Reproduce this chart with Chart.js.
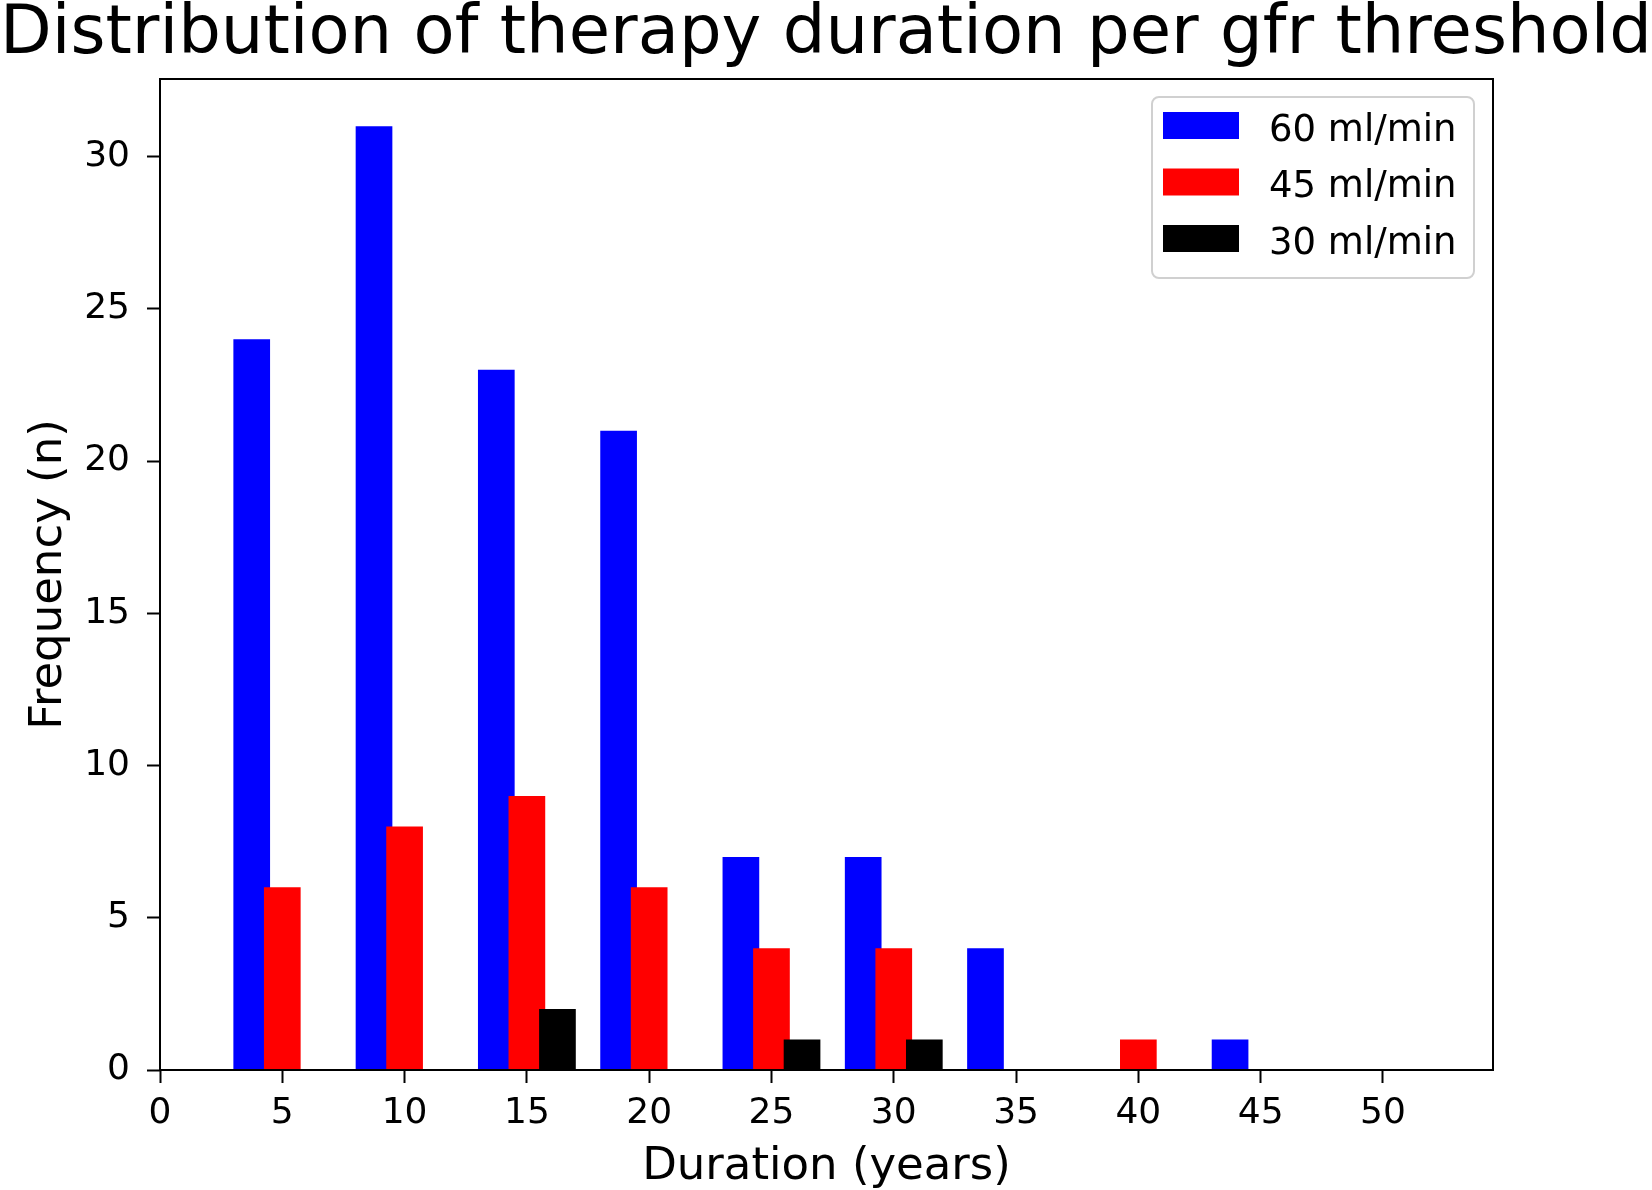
<!DOCTYPE html>
<html>
<head>
<meta charset="utf-8">
<title>Distribution of therapy duration per gfr threshold</title>
<script src="https://cdn.jsdelivr.net/npm/chart.js@4.4.1/dist/chart.umd.min.js"></script>
<style>
    body { margin: 0; background: #ffffff; }
    canvas { display: block; }
</style>
</head>
<body>
<canvas id="durationChart" width="1652" height="1190"></canvas>
<script>
// ==========================================
// Data
// ==========================================

const bins = [5, 10, 15, 20, 25, 30, 35, 40, 45];
const gfr60 = [24, 31, 23, 21, 7, 7, 4, 0, 1];
const gfr45 = [6, 8, 9, 6, 4, 4, 0, 1, 0];
const gfr30 = [0, 0, 2, 0, 1, 1, 0, 0, 0];
const seriesLabels = ['60 ml/min', '45 ml/min', '30 ml/min'];
const xTicks = [0, 5, 10, 15, 20, 25, 30, 35, 40, 45, 50];
const yTicks = [0, 5, 10, 15, 20, 25, 30];

// bars sit side by side around each bin value
const groupOffsets = [-1.25, 0, 1.25];
const colors = ['#0000ff', '#ff0000', '#000000'];

Chart.defaults.font.family = "'DejaVu Sans', sans-serif";
Chart.defaults.color = '#000000';

function toPoints(values, offset) {
    return bins.map((b, i) => ({ x: b + offset, y: values[i] }));
}

// frame around the plot area (matplotlib spines)
const axesFrame = {
    id: 'axesFrame',
    afterDatasetsDraw(chart) {
        const { ctx, chartArea } = chart;
        ctx.save();
        ctx.strokeStyle = '#000000';
        ctx.lineWidth = 2;
        ctx.strokeRect(chartArea.left, chartArea.top,
            chartArea.right - chartArea.left, chartArea.bottom - chartArea.top);
        ctx.restore();
    }
};

// boxed legend in the upper right corner
const boxLegend = {
    id: 'boxLegend',
    afterDraw(chart) {
        const ctx = chart.ctx;
        const left = 1152, top = 97, width = 322, height = 181;
        ctx.save();
        ctx.beginPath();
        ctx.roundRect(left, top, width, height, 7);
        ctx.fillStyle = 'rgba(255, 255, 255, 0.8)';
        ctx.fill();
        ctx.strokeStyle = '#d0d0d0';
        ctx.lineWidth = 2;
        ctx.stroke();

        ctx.font = "37px 'DejaVu Sans'";
        ctx.textAlign = 'left';
        ctx.textBaseline = 'middle';
        chart.data.datasets.forEach((ds, i) => {
            const y = 112 + i * 56.5;
            ctx.fillStyle = ds.backgroundColor;
            ctx.fillRect(1163, y, 76, 27);
            ctx.fillStyle = '#000000';
            ctx.fillText(ds.label, 1269, y + 19);
        });
        ctx.restore();
    }
};

const ctx = document.getElementById('durationChart');

new Chart(ctx, {
    type: 'bar',
    data: {
        datasets: [0, 1, 2].map(i => ({
            label: seriesLabels[i],
            data: toPoints([gfr60, gfr45, gfr30][i], groupOffsets[i]),
            backgroundColor: colors[i],
            borderWidth: 0,
            grouped: false,
            categoryPercentage: 1,
            barPercentage: 1.2,
            order: 3 - i
        }))
    },
    options: {
        responsive: false,
        animation: false,
        devicePixelRatio: 1,
        layout: {
            padding: { left: 0, right: 0, top: 0, bottom: 0 }
        },
        plugins: {
            legend: { display: false },
            tooltip: { enabled: false },
            title: {
                display: true,
                text: 'Distribution of therapy duration per gfr threshold',
                color: '#000000',
                font: { size: 67.5, weight: 'normal', lineHeight: 1 },
                padding: { top: 2, bottom: 9.5 }
            }
        },
        scales: {
            x: {
                type: 'linear',
                min: 0,
                max: 54.5,
                offset: false,
                afterFit(scale) { scale.height = 120; },
                afterBuildTicks(scale) { scale.ticks = xTicks.map(v => ({ value: v })); },
                border: { display: false },
                grid: {
                    offset: false,
                    drawOnChartArea: false,
                    drawTicks: true,
                    tickLength: 13,
                    tickWidth: 2,
                    tickColor: '#000000'
                },
                ticks: {
                    font: { size: 36 },
                    color: '#000000',
                    padding: 9,
                    maxRotation: 0,
                    autoSkip: false
                },
                title: {
                    display: true,
                    text: 'Duration (years)',
                    color: '#000000',
                    font: { size: 45, lineHeight: 1 },
                    padding: { top: 0, bottom: 0 }
                }
            },
            y: {
                type: 'linear',
                min: 0,
                max: 32.55,
                afterFit(scale) { scale.width = 160; },
                afterBuildTicks(scale) { scale.ticks = yTicks.map(v => ({ value: v })); },
                border: { display: false },
                grid: {
                    drawOnChartArea: false,
                    drawTicks: true,
                    tickLength: 13,
                    tickWidth: 2,
                    tickColor: '#000000'
                },
                ticks: {
                    font: { size: 36 },
                    color: '#000000',
                    padding: 17
                },
                title: {
                    display: true,
                    text: 'Frequency (n)',
                    color: '#000000',
                    font: { size: 45, lineHeight: 1 },
                    padding: { top: 27, bottom: 0 }
                }
            },
            // empty right axis, only reserves the right margin
            yRight: {
                type: 'linear',
                position: 'right',
                display: true,
                afterFit(scale) { scale.width = 159; },
                border: { display: false },
                grid: { display: false },
                ticks: { display: false }
            }
        }
    },
    plugins: [axesFrame, boxLegend]
});
</script>
</body>
</html>
